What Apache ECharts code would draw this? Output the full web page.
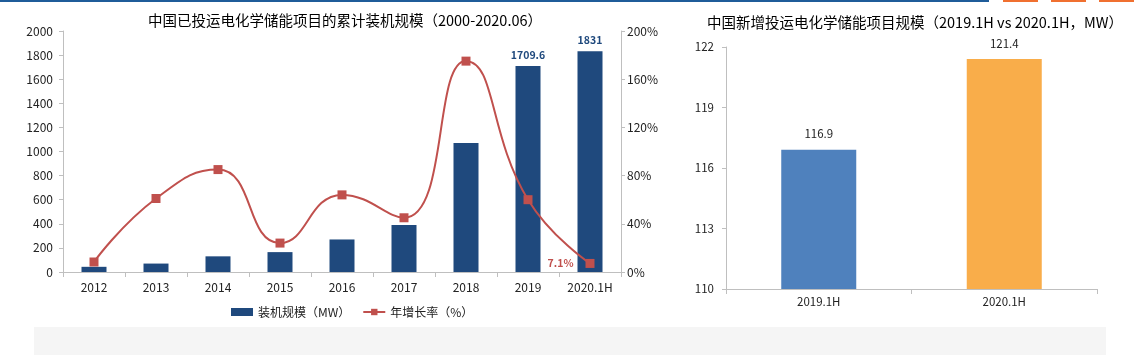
<!DOCTYPE html>
<html><head><meta charset="utf-8">
<script src="https://cdn.jsdelivr.net/npm/echarts@6/dist/echarts.min.js"></script>
<style>html,body{margin:0;padding:0;background:#fff}#c{width:1134px;height:355px}</style>
</head><body><div id="c"></div>
<script>
var years = ['2012','2013','2014','2015','2016','2017','2018','2019','2020.1H'];
var capacity = [43, 70, 130, 165, 270, 390, 1070, 1709.6, 1831];
var growth = [8.3, 61, 85, 24, 64, 45, 175, 60, 7.1];
var leftTicksMW = [0, 200, 400, 600, 800, 1000, 1200, 1400, 1600, 1800, 2000];
var rightTicksPct = [0, 40, 80, 120, 160, 200];
var halfCats = ['2019.1H', '2020.1H'];
var halfValues = [116.9, 121.4];
var halfTicks = [110, 113, 116, 119, 122];
var labelledBars = [7, 8];
var labelledPoints = [8];

var FONT = '"Noto Sans CJK SC", "DejaVu Sans", sans-serif';
var chart = echarts.init(document.getElementById('c'));
var axisLineStyle = {lineStyle: {color: '#BFBFBF', width: 1}};

chart.setOption({
  animation: false,
  textStyle: {fontFamily: FONT},
  graphic: [
    {type: 'rect', shape: {x: 0, y: 0, width: 989, height: 2}, style: {fill: '#1F5C99'}},
    {type: 'rect', shape: {x: 1003, y: 0, width: 35, height: 2}, style: {fill: '#F07030'}},
    {type: 'rect', shape: {x: 1051, y: 0, width: 35, height: 2}, style: {fill: '#F07030'}},
    {type: 'rect', shape: {x: 1099, y: 0, width: 35, height: 2}, style: {fill: '#F07030'}},
    {type: 'rect', z: -10, shape: {x: 34, y: 327, width: 1072, height: 28}, style: {fill: '#F5F5F5'}}
  ],
  title: [
    {text: '中国已投运电化学储能项目的累计装机规模（2000-2020.06）', left: 340, top: 8, textAlign: 'center',
     textStyle: {fontSize: 14.5, fontWeight: 'normal', color: '#000', fontFamily: FONT}},
    {text: '中国新增投运电化学储能项目规模（2019.1H vs 2020.1H，MW）', left: 910, top: 10, textAlign: 'center',
     textStyle: {fontSize: 14.5, fontWeight: 'normal', color: '#000', fontFamily: FONT}}
  ],
  legend: {
    left: 226, top: 301, itemWidth: 22, itemHeight: 8, itemGap: 12,
    textStyle: {fontSize: 12, color: '#222', fontFamily: FONT},
    data: [{name: '装机规模（MW）', icon: 'rect'}, {name: '年增长率（%）'}]
  },
  grid: [
    {left: 63, right: 513, top: 31, bottom: 83},
    {left: 726, right: 37, top: 47, bottom: 66}
  ],
  xAxis: [
    {type: 'category', gridIndex: 0, data: years, axisLine: axisLineStyle,
     axisTick: {show: true, alignWithLabel: false, length: 5, lineStyle: {color: '#BFBFBF'}},
     axisLabel: {fontSize: 12, color: '#222', margin: 9}},
    {type: 'category', gridIndex: 1, data: halfCats, axisLine: axisLineStyle,
     axisTick: {show: true, alignWithLabel: false, length: 5, lineStyle: {color: '#BFBFBF'}},
     axisLabel: {fontSize: 11.5, color: '#222', margin: 7}}
  ],
  yAxis: [
    {type: 'value', gridIndex: 0, min: leftTicksMW[0], max: leftTicksMW[leftTicksMW.length - 1], interval: 200,
     axisLine: {show: true, lineStyle: {color: '#BFBFBF'}}, axisTick: {show: true, length: 4, lineStyle: {color: '#BFBFBF'}},
     splitLine: {show: false}, axisLabel: {fontSize: 12, color: '#222', margin: 10, formatter: function (v) { return String(v); }}},
    {type: 'value', gridIndex: 0, position: 'right', min: rightTicksPct[0], max: rightTicksPct[rightTicksPct.length - 1], interval: 40,
     axisLine: {show: true, lineStyle: {color: '#BFBFBF'}}, axisTick: {show: true, length: 4, lineStyle: {color: '#BFBFBF'}},
     splitLine: {show: false}, axisLabel: {fontSize: 12, color: '#222', margin: 6, formatter: '{value}%'}},
    {type: 'value', gridIndex: 1, min: halfTicks[0], max: halfTicks[halfTicks.length - 1], interval: 3,
     axisLine: {show: true, lineStyle: {color: '#BFBFBF'}}, axisTick: {show: true, length: 4, lineStyle: {color: '#BFBFBF'}},
     splitLine: {show: false}, axisLabel: {fontSize: 11.5, color: '#222', margin: 12}}
  ],
  series: [
    {name: '装机规模（MW）', type: 'bar', xAxisIndex: 0, yAxisIndex: 0, barWidth: 25,
     itemStyle: {color: '#1F497D'},
     data: capacity.map(function (v, i) {
       return labelledBars.indexOf(i) >= 0
         ? {value: v, label: {show: true, position: 'top', distance: 6, fontSize: 10.5, fontWeight: 'bold', color: '#1F497D'}}
         : v;
     })},
    {name: '年增长率（%）', type: 'line', xAxisIndex: 0, yAxisIndex: 1, smooth: 0.5,
     symbol: 'rect', symbolSize: 9, lineStyle: {color: '#C0504D', width: 2}, itemStyle: {color: '#C0504D'},
     data: growth.map(function (v, i) {
       return labelledPoints.indexOf(i) >= 0
         ? {value: v, label: {show: true, position: 'left', distance: 12, fontSize: 10.5, fontWeight: 'bold', color: '#C0504D', formatter: '{c}%'}}
         : v;
     })},
    {name: 'half', type: 'bar', xAxisIndex: 1, yAxisIndex: 2, barWidth: 75,
     label: {show: true, position: 'top', distance: 10, fontSize: 11.5, color: '#222'},
     data: halfValues.map(function (v, i) {
       return {value: v, itemStyle: {color: i === 0 ? '#4F81BD' : '#F9AD4A'}};
     })}
  ]
});
</script></body></html>
